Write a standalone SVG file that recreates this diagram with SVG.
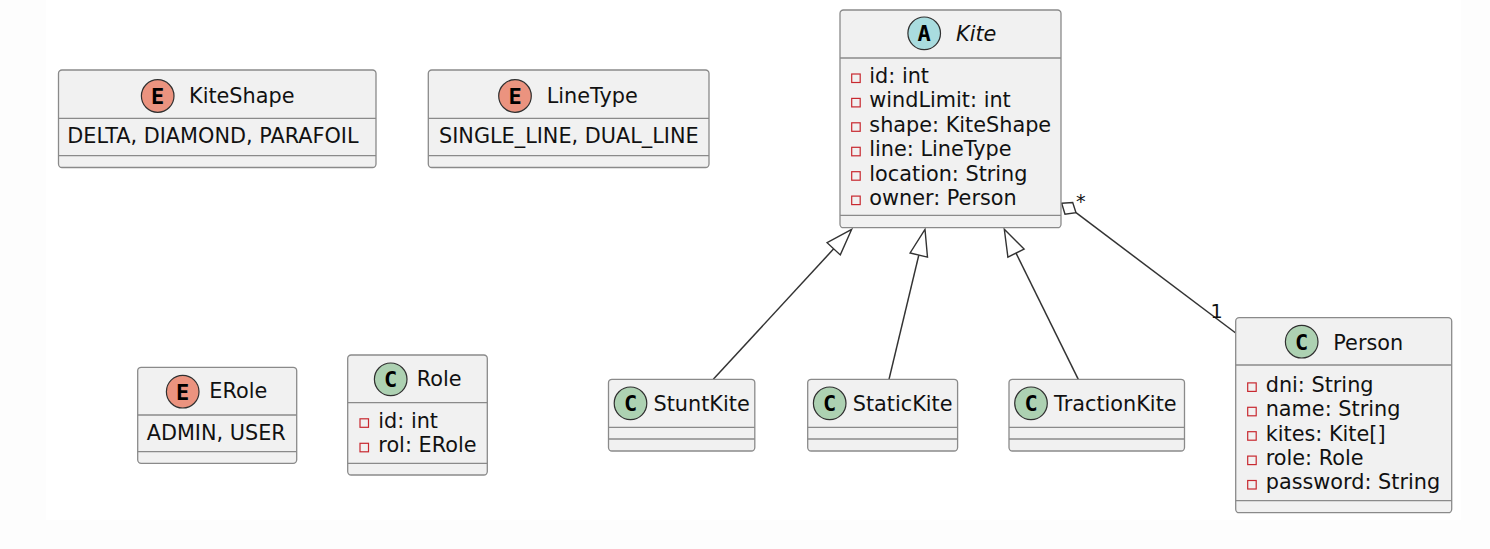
<svg xmlns="http://www.w3.org/2000/svg" width="1490" height="549" viewBox="0 0 1490 549">
<style>
.bg{fill:#fdfdfd}
.box{fill:#F1F1F1;stroke:#8a8a8a;stroke-width:1.3}
.dv{stroke:#8a8a8a;stroke-width:1.3}
.t{font-family:"DejaVu Sans","Liberation Sans",sans-serif;font-size:20.8px;fill:#111}
.it{font-style:italic}
.pv{fill:none;stroke:#C82930;stroke-width:1.2}
.ci{stroke:#303030;stroke-width:1.2}
.cc{fill:#ADD1B2}
.ce{fill:#EB937F}
.ca{fill:#A9DCDF}
.lt{font-family:"DejaVu Sans Mono","Liberation Mono",monospace;font-weight:bold;font-size:22px;text-anchor:middle;fill:#000}
.edge{stroke:#333;stroke-width:1.5;fill:none}
.head{fill:#fff;stroke:#333;stroke-width:1.4;stroke-linejoin:miter}
.lbl{font-family:"DejaVu Sans","Liberation Sans",sans-serif;font-size:19.2px;fill:#111}
</style>
<rect class="bg" x="0" y="0" width="1490" height="549"/>
<rect x="46" y="0" width="1415" height="520" fill="#ffffff"/>

<g id="connectors">
  <line class="edge" x1="713.3" y1="379.3" x2="833.7" y2="248.8"/>
  <polygon class="head" points="851.7,229.3 840.3,254.9 827.1,242.7"/>
  <line class="edge" x1="889" y1="379.3" x2="918.8" y2="255.1"/>
  <polygon class="head" points="925,229.3 927.5,257.2 910.1,253.0"/>
  <line class="edge" x1="1078.3" y1="379.3" x2="1016" y2="253.1"/>
  <polygon class="head" points="1004.3,229.3 1024.1,249.1 1007.9,257.1"/>
  <line class="edge" x1="1076" y1="212.7" x2="1235.7" y2="333"/>
  <polygon class="head" points="1061.7,203.3 1072.7,202.6 1076,212.7 1065,214.3"/>
  <text class="lbl" x="1076" y="207.5">*</text>
  <text class="lbl" x="1210.5" y="318">1</text>
</g>

<g id="KiteShape">
  <rect class="box" x="58.5" y="70" width="317.5" height="97.5" rx="3.5"/>
  <line class="dv" x1="58.5" y1="118.3" x2="376" y2="118.3"/>
  <line class="dv" x1="58.5" y1="155.7" x2="376" y2="155.7"/>
  <circle class="ci ce" cx="157.7" cy="96" r="16.3"/>
  <text class="lt" x="157.7" y="104">E</text>
  <text class="t" x="189" y="103.3">KiteShape</text>
  <text class="t" x="67.3" y="143.3">DELTA, DIAMOND, PARAFOIL</text>
</g>

<g id="LineType">
  <rect class="box" x="428.3" y="70" width="280.7" height="97.5" rx="3.5"/>
  <line class="dv" x1="428.3" y1="118.3" x2="709" y2="118.3"/>
  <line class="dv" x1="428.3" y1="155.7" x2="709" y2="155.7"/>
  <circle class="ci ce" cx="515" cy="96" r="16.3"/>
  <text class="lt" x="515" y="104">E</text>
  <text class="t" x="546.7" y="103.3">LineType</text>
  <text class="t" x="439" y="143.3">SINGLE_LINE, DUAL_LINE</text>
</g>

<g id="ERole">
  <rect class="box" x="137.7" y="367.3" width="159" height="96" rx="3.5"/>
  <line class="dv" x1="137.7" y1="415" x2="296.7" y2="415"/>
  <line class="dv" x1="137.7" y1="451.7" x2="296.7" y2="451.7"/>
  <circle class="ci ce" cx="182.7" cy="391.7" r="16.3"/>
  <text class="lt" x="182.7" y="399.7">E</text>
  <text class="t" x="209.3" y="398.3">ERole</text>
  <text class="t" x="146.7" y="440">ADMIN, USER</text>
</g>

<g id="Role">
  <rect class="box" x="347.7" y="355" width="139.6" height="120" rx="3.5"/>
  <line class="dv" x1="347.7" y1="402.7" x2="487.3" y2="402.7"/>
  <line class="dv" x1="347.7" y1="463.3" x2="487.3" y2="463.3"/>
  <circle class="ci cc" cx="390.7" cy="379.3" r="16.3"/>
  <text class="lt" x="390.7" y="387.3">C</text>
  <text class="t" x="416.7" y="386">Role</text>
  <rect class="pv" x="360" y="418.8" width="8.5" height="8.5"/>
  <text class="t" x="378.3" y="427.5">id: int</text>
  <rect class="pv" x="360" y="443.3" width="8.5" height="8.5"/>
  <text class="t" x="378.3" y="452">rol: ERole</text>
</g>

<g id="Kite">
  <rect class="box" x="840" y="10" width="221" height="217.7" rx="3.5"/>
  <line class="dv" x1="840" y1="58" x2="1061" y2="58"/>
  <line class="dv" x1="840" y1="215.3" x2="1061" y2="215.3"/>
  <circle class="ci ca" cx="924.2" cy="33.3" r="16.3"/>
  <text class="lt" x="924.2" y="41.3">A</text>
  <text class="t it" x="956" y="40.7">Kite</text>
  <rect class="pv" x="851.7" y="74" width="8.5" height="8.5"/>
  <text class="t" x="869.3" y="82.8">id: int</text>
  <rect class="pv" x="851.7" y="98.4" width="8.5" height="8.5"/>
  <text class="t" x="869.3" y="107.2">windLimit: int</text>
  <rect class="pv" x="851.7" y="122.8" width="8.5" height="8.5"/>
  <text class="t" x="869.3" y="131.6">shape: KiteShape</text>
  <rect class="pv" x="851.7" y="147.3" width="8.5" height="8.5"/>
  <text class="t" x="869.3" y="156.1">line: LineType</text>
  <rect class="pv" x="851.7" y="171.7" width="8.5" height="8.5"/>
  <text class="t" x="869.3" y="180.5">location: String</text>
  <rect class="pv" x="851.7" y="196.1" width="8.5" height="8.5"/>
  <text class="t" x="869.3" y="204.9">owner: Person</text>
</g>

<g id="StuntKite">
  <rect class="box" x="608.5" y="379.3" width="146.3" height="71.7" rx="3.5"/>
  <line class="dv" x1="608.5" y1="427.3" x2="754.8" y2="427.3"/>
  <line class="dv" x1="608.5" y1="439" x2="754.8" y2="439"/>
  <circle class="ci cc" cx="630.5" cy="403.3" r="16.3"/>
  <text class="lt" x="630.5" y="411.3">C</text>
  <text class="t" x="653.5" y="410.5">StuntKite</text>
</g>

<g id="StaticKite">
  <rect class="box" x="807.7" y="379.3" width="149.9" height="71.7" rx="3.5"/>
  <line class="dv" x1="807.7" y1="427.3" x2="957.6" y2="427.3"/>
  <line class="dv" x1="807.7" y1="439" x2="957.6" y2="439"/>
  <circle class="ci cc" cx="829.7" cy="403.3" r="16.3"/>
  <text class="lt" x="829.7" y="411.3">C</text>
  <text class="t" x="852.7" y="410.5">StaticKite</text>
</g>

<g id="TractionKite">
  <rect class="box" x="1009" y="379.3" width="175.5" height="71.7" rx="3.5"/>
  <line class="dv" x1="1009" y1="427.3" x2="1184.5" y2="427.3"/>
  <line class="dv" x1="1009" y1="439" x2="1184.5" y2="439"/>
  <circle class="ci cc" cx="1031" cy="403.3" r="16.3"/>
  <text class="lt" x="1031" y="411.3">C</text>
  <text class="t" x="1054" y="410.5">TractionKite</text>
</g>

<g id="Person">
  <rect class="box" x="1235.7" y="317.7" width="216" height="195" rx="3.5"/>
  <line class="dv" x1="1235.7" y1="365" x2="1451.7" y2="365"/>
  <line class="dv" x1="1235.7" y1="500.7" x2="1451.7" y2="500.7"/>
  <circle class="ci cc" cx="1301.7" cy="341.7" r="16.3"/>
  <text class="lt" x="1301.7" y="349.7">C</text>
  <text class="t" x="1333.3" y="350">Person</text>
  <rect class="pv" x="1247.7" y="382.9" width="8.5" height="8.5"/>
  <text class="t" x="1265.7" y="391.7">dni: String</text>
  <rect class="pv" x="1247.7" y="407.3" width="8.5" height="8.5"/>
  <text class="t" x="1265.7" y="416.1">name: String</text>
  <rect class="pv" x="1247.7" y="431.7" width="8.5" height="8.5"/>
  <text class="t" x="1265.7" y="440.5">kites: Kite[]</text>
  <rect class="pv" x="1247.7" y="456.1" width="8.5" height="8.5"/>
  <text class="t" x="1265.7" y="464.9">role: Role</text>
  <rect class="pv" x="1247.7" y="480.5" width="8.5" height="8.5"/>
  <text class="t" x="1265.7" y="489.3">password: String</text>
</g>
</svg>
